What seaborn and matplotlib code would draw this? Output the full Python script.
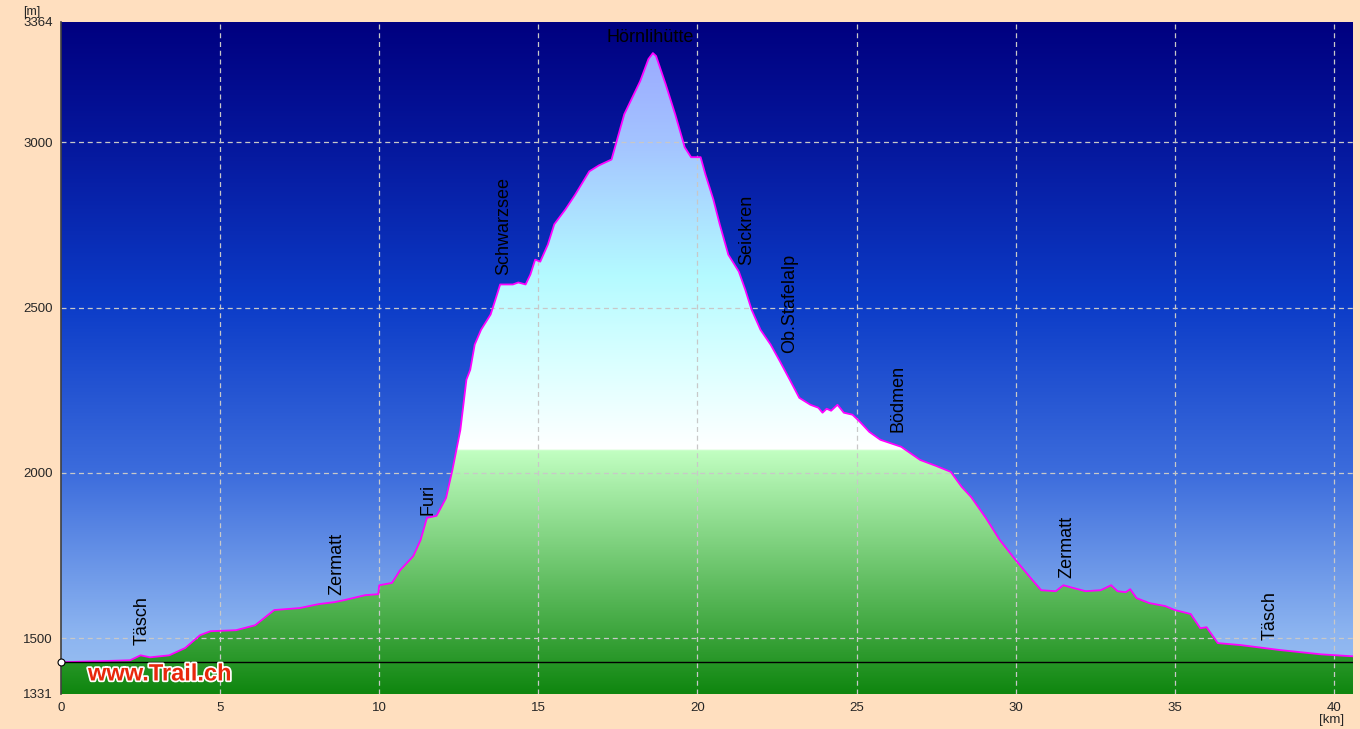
import numpy as np
import pandas as pd
import matplotlib
matplotlib.use("Agg")
import matplotlib.pyplot as plt
import matplotlib.patheffects as pe
from matplotlib.colors import LinearSegmentedColormap
import seaborn as sns

sns.set_style("white")
plt.rcParams["font.family"] = ["Liberation Sans", "DejaVu Sans"]

# profile
dist_km = [0.0, 2.17, 2.5, 2.8, 3.4, 3.9, 4.37, 4.7, 5.5, 6.1, 6.7, 7.5, 8.1, 8.6, 8.9,
           9.56, 9.97, 10.0, 10.4, 10.66, 11.07, 11.3, 11.5, 11.8, 12.1, 12.3, 12.55,
           12.74, 12.86, 13.0, 13.2, 13.5, 13.65, 13.8, 14.2, 14.37, 14.6, 14.75, 14.9,
           15.06, 15.3, 15.5, 15.85, 16.16, 16.6, 16.9, 17.3, 17.7, 18.2, 18.46, 18.6,
           18.7, 19.0, 19.3, 19.6, 19.8, 20.1, 20.25, 20.5, 20.7, 20.97, 21.3, 21.5,
           21.7, 21.98, 22.3, 22.6, 22.9, 23.2, 23.55, 23.8, 23.93, 24.06, 24.2, 24.4,
           24.6, 24.87, 25.1, 25.4, 25.75, 26.4, 27.0, 27.5, 27.96, 28.3, 28.6, 29.06,
           29.5, 30.0, 30.47, 30.8, 31.26, 31.5, 31.8, 32.2, 32.67, 33.0, 33.2, 33.46,
           33.6, 33.8, 34.2, 34.7, 35.0, 35.5, 35.8, 36.0, 36.35, 37.07, 38.3, 39.6, 40.6]
elev_m = [1427, 1433, 1448, 1442, 1448, 1470, 1509, 1521, 1524, 1539, 1585, 1591, 1603, 1609,
          1615, 1630, 1633, 1660, 1667, 1706, 1748, 1797, 1864, 1870, 1924, 2009, 2130,
          2282, 2312, 2388, 2433, 2479, 2524, 2570, 2570, 2576, 2570, 2600, 2645, 2639,
          2691, 2752, 2797, 2842, 2912, 2930, 2948, 3085, 3185, 3252, 3270, 3261, 3176,
          3085, 2985, 2955, 2955, 2903, 2827, 2752, 2660, 2609, 2555, 2494, 2433, 2388,
          2336, 2282, 2227, 2206, 2197, 2182, 2194, 2188, 2206, 2182, 2176, 2155, 2124,
          2100, 2079, 2039, 2021, 2003, 1958, 1927, 1864, 1797, 1736, 1682, 1645, 1642,
          1660, 1652, 1642, 1645, 1660, 1642, 1639, 1648, 1621, 1606, 1597, 1585, 1573,
          1530, 1533, 1485, 1479, 1464, 1451, 1445]

place_names = ["Täsch", "Zermatt", "Furi", "Schwarzsee", "Seickren", "Ob.Stafelalp",
               "Bödmen", "Zermatt", "Täsch"]
place_km = [2.55, 8.68, 11.54, 13.9, 21.54, 22.9, 26.3, 31.6, 38.0]
place_elev = [1479, 1630, 1873, 2600, 2630, 2364, 2124, 1682, 1494]
summit_name = "Hörnlihütte"
summit_km = 18.5
summit_elev = 3318

y_ticks = [1331, 1500, 2000, 2500, 3000, 3364]
y_grid = [1500, 2000, 2500, 3000]
x_ticks = [0, 5, 10, 15, 20, 25, 30, 35, 40]
start_elev = 1427

df = pd.DataFrame({"km": dist_km, "m": elev_m})
ymin, ymax = 1331, 3364
xmin, xmax = 0, 40.6

fig = plt.figure(figsize=(13.6, 7.29), dpi=100, facecolor="#ffdfbf")
ax = fig.add_axes([61 / 1360, 35 / 729, 1292 / 1360, 672 / 729])

# sky gradient
sky = LinearSegmentedColormap.from_list("sky", [
    (0.0, "#9cc2f2"), (0.09, "#8cb4f0"), (0.33, "#3c6cdc"),
    (0.58, "#0c3cc8"), (0.8, "#061aa0"), (1.0, "#000080")])
grad = np.linspace(0, 1, 256).reshape(-1, 1)
ax.imshow(grad, cmap=sky, origin="lower", aspect="auto",
          extent=[xmin, xmax, ymin, ymax], zorder=0)

# terrain fill gradient (green below ~2070 m, white/cyan/lavender above)
f = lambda m: (m - ymin) / (ymax - ymin)
terrain = LinearSegmentedColormap.from_list("terrain", [
    (0.0, "#0f860f"), (f(1500), "#3aa33a"), (f(2068), "#c2ffc2"),
    (f(2072), "#ffffff"), (f(2350), "#d8ffff"), (f(2600), "#b4faff"),
    (f(3000), "#a4c4ff"), (1.0, "#98a2ff")])
poly = ax.fill_between(df["km"], df["m"], ymin, color="none", lw=0)
img = ax.imshow(grad, cmap=terrain, origin="lower", aspect="auto",
                extent=[xmin, xmax, ymin, ymax], zorder=1)
img.set_clip_path(poly.get_paths()[0], transform=ax.transData)

# dashed grid above the fill
for y in y_grid:
    ax.axhline(y, color="#c8c8c8", ls=(0, (4, 3)), lw=0.9, zorder=2)
for x in x_ticks[1:]:
    ax.axvline(x, color="#c8c8c8", ls=(0, (4, 3)), lw=0.9, zorder=2)

sns.lineplot(data=df, x="km", y="m", color="#ff00ff", lw=1.3, ax=ax, zorder=3)
ax.axhline(start_elev, color="black", lw=1, zorder=4)
ax.plot([0], [start_elev], marker="o", ms=5, mfc="white", mec="black", mew=0.8,
        zorder=5, clip_on=False)

for name, x, y in zip(place_names, place_km, place_elev):
    ax.text(x, y, name, rotation=90, ha="center", va="bottom", fontsize=13,
            color="black", zorder=6)
ax.text(summit_km, summit_elev, summit_name, ha="center", va="center",
        fontsize=13, color="black", zorder=6)

ax.text(0.85, 1372, "www.Trail.ch", fontsize=17, fontweight="bold", color="#e8280c",
        zorder=6, path_effects=[pe.withStroke(linewidth=2.5, foreground="white")])

ax.set_xlim(xmin, xmax)
ax.set_ylim(ymin, ymax)
ax.set_xticks(x_ticks)
ax.set_yticks(y_ticks)
ax.grid(False)
ax.tick_params(axis="both", direction="out", length=4, width=1, color="black",
               labelsize=9.5, pad=2)
for s in ["top", "right", "bottom"]:
    ax.spines[s].set_visible(False)
ax.spines["left"].set_color("#404040")
ax.spines["left"].set_linewidth(1.2)
ax.set_xlabel("")
ax.set_ylabel("")
fig.text(23 / 1360, 1 - 12 / 729, "[m]", fontsize=9, va="center", ha="left")
fig.text(1332 / 1360, 1 - 720 / 729, "[km]", fontsize=9.5, va="center", ha="center")

fig.savefig("out.png", dpi=100, facecolor=fig.get_facecolor())
